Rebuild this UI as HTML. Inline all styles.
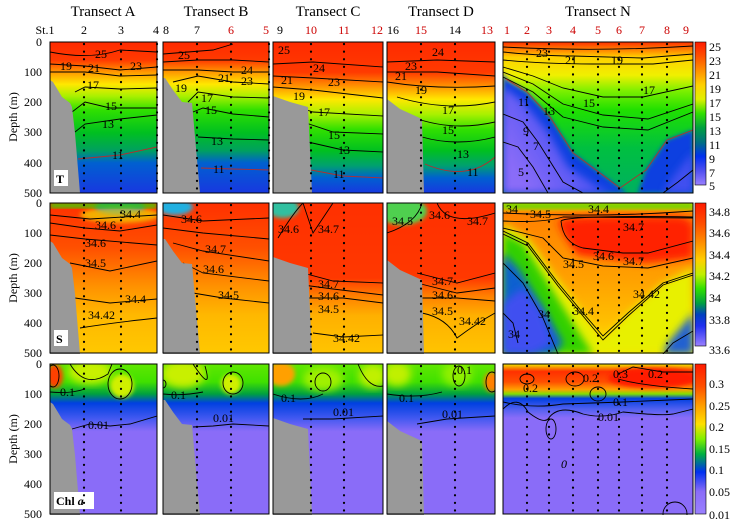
<!DOCTYPE html>
<html><head><meta charset="utf-8"><style>
html,body{margin:0;padding:0;background:#fff;}
svg{display:block;font-family:"Liberation Serif",serif;}
</style></head><body>
<svg width="731" height="523" viewBox="0 0 731 523" xmlns="http://www.w3.org/2000/svg">
<defs>
<linearGradient id="tA" x1="0" y1="0" x2="0" y2="1">
<stop offset="0" stop-color="#ff2a00"/><stop offset="0.12" stop-color="#ff3a00"/><stop offset="0.2" stop-color="#ff9a00"/><stop offset="0.28" stop-color="#ffe800"/><stop offset="0.36" stop-color="#a8f000"/><stop offset="0.45" stop-color="#30e000"/><stop offset="0.6" stop-color="#00c020"/><stop offset="0.72" stop-color="#00a060"/><stop offset="0.8" stop-color="#0060d0"/><stop offset="1" stop-color="#1838e0"/></linearGradient>
<linearGradient id="tC" x1="0" y1="0" x2="0" y2="1">
<stop offset="0" stop-color="#ff2a00"/><stop offset="0.2" stop-color="#ff3a00"/><stop offset="0.3" stop-color="#ff9a00"/><stop offset="0.38" stop-color="#ffe800"/><stop offset="0.48" stop-color="#a8f000"/><stop offset="0.58" stop-color="#30e000"/><stop offset="0.72" stop-color="#00c020"/><stop offset="0.82" stop-color="#00a070"/><stop offset="0.9" stop-color="#0060d0"/><stop offset="1" stop-color="#1838e0"/></linearGradient>
<linearGradient id="tN" x1="0" y1="0" x2="0" y2="1">
<stop offset="0" stop-color="#ff3000"/><stop offset="0.05" stop-color="#ff8000"/><stop offset="0.1" stop-color="#ffd000"/><stop offset="0.22" stop-color="#f0f000"/><stop offset="0.32" stop-color="#80f000"/><stop offset="0.45" stop-color="#20e000"/><stop offset="0.7" stop-color="#00c040"/><stop offset="1" stop-color="#00b060"/></linearGradient>
<linearGradient id="tNb" x1="1" y1="0" x2="0" y2="0.6">
<stop offset="0" stop-color="#0040e0"/><stop offset="0.3" stop-color="#3048f0"/><stop offset="1" stop-color="#8a6cf8"/></linearGradient>
<linearGradient id="sA" x1="0" y1="0" x2="0" y2="1">
<stop offset="0" stop-color="#ff3000"/><stop offset="0.3" stop-color="#ff5000"/><stop offset="0.55" stop-color="#ff9000"/><stop offset="0.75" stop-color="#ffb800"/><stop offset="1" stop-color="#ffc800"/></linearGradient>
<linearGradient id="sC" x1="0" y1="0" x2="0" y2="1">
<stop offset="0" stop-color="#ff3000"/><stop offset="0.5" stop-color="#ff3800"/><stop offset="0.62" stop-color="#ff8000"/><stop offset="0.75" stop-color="#ffb000"/><stop offset="1" stop-color="#ffc400"/></linearGradient>
<linearGradient id="sN" x1="0" y1="0" x2="0" y2="1">
<stop offset="0" stop-color="#e0f000"/><stop offset="0.07" stop-color="#ff8000"/><stop offset="0.5" stop-color="#ffa000"/><stop offset="0.8" stop-color="#ffc000"/><stop offset="1" stop-color="#ffe000"/></linearGradient>
<linearGradient id="cA" x1="0" y1="0" x2="0" y2="1">
<stop offset="0" stop-color="#60e800"/><stop offset="0.12" stop-color="#40e000"/><stop offset="0.2" stop-color="#00a040"/><stop offset="0.26" stop-color="#0040e0"/><stop offset="0.36" stop-color="#4058f0"/><stop offset="0.45" stop-color="#8a6cf8"/><stop offset="1" stop-color="#8a6cf8"/></linearGradient>
<linearGradient id="cN" x1="0" y1="0" x2="0" y2="1">
<stop offset="0" stop-color="#f0e800"/><stop offset="0.05" stop-color="#ff3000"/><stop offset="0.12" stop-color="#ff5000"/><stop offset="0.17" stop-color="#ffa000"/><stop offset="0.2" stop-color="#80e000"/><stop offset="0.23" stop-color="#0040e0"/><stop offset="0.3" stop-color="#5060f0"/><stop offset="0.36" stop-color="#8a6cf8"/><stop offset="1" stop-color="#8a6cf8"/></linearGradient>
<linearGradient id="cbT" x1="0" y1="0" x2="0" y2="1">
<stop offset="0" stop-color="#ff1a00"/><stop offset="0.1" stop-color="#ff5000"/><stop offset="0.2" stop-color="#ff9000"/><stop offset="0.3" stop-color="#ffd000"/><stop offset="0.4" stop-color="#e0f000"/><stop offset="0.5" stop-color="#30e000"/><stop offset="0.6" stop-color="#00a040"/><stop offset="0.7" stop-color="#007080"/><stop offset="0.8" stop-color="#0030f0"/><stop offset="0.9" stop-color="#5050f0"/><stop offset="1" stop-color="#9a80ff"/></linearGradient>
<linearGradient id="cbS" x1="0" y1="0" x2="0" y2="1">
<stop offset="0" stop-color="#ff1a00"/><stop offset="0.15" stop-color="#ff5000"/><stop offset="0.28" stop-color="#ff9000"/><stop offset="0.4" stop-color="#ffd000"/><stop offset="0.5" stop-color="#c0f000"/><stop offset="0.6" stop-color="#30e000"/><stop offset="0.7" stop-color="#00a040"/><stop offset="0.78" stop-color="#0040c0"/><stop offset="0.86" stop-color="#2030f0"/><stop offset="1" stop-color="#9a80ff"/></linearGradient>
<linearGradient id="cbC" x1="0" y1="0" x2="0" y2="1">
<stop offset="0" stop-color="#ff1a00"/><stop offset="0.15" stop-color="#ff5000"/><stop offset="0.28" stop-color="#ffa000"/><stop offset="0.4" stop-color="#ffe000"/><stop offset="0.5" stop-color="#80f000"/><stop offset="0.6" stop-color="#00b040"/><stop offset="0.72" stop-color="#0030f0"/><stop offset="0.85" stop-color="#8a6cf8"/><stop offset="1" stop-color="#9a80ff"/></linearGradient>
<filter id="bl" x="-20%" y="-20%" width="140%" height="140%"><feGaussianBlur stdDeviation="4"/></filter>
<filter id="bl2" x="-20%" y="-20%" width="140%" height="140%"><feGaussianBlur stdDeviation="2"/></filter>
<clipPath id="cN0"><rect x="0" y="0" width="190" height="151"/></clipPath>
<clipPath id="c107"><rect x="0" y="0" width="107" height="151"/></clipPath>
<clipPath id="c106"><rect x="0" y="0" width="106" height="151"/></clipPath>
<clipPath id="c110"><rect x="0" y="0" width="110" height="151"/></clipPath>
<clipPath id="c108"><rect x="0" y="0" width="108" height="151"/></clipPath>
</defs>

<g font-size="15" text-anchor="middle">
<text x="103" y="16">Transect A</text><text x="216" y="16">Transect B</text>
<text x="328" y="16">Transect C</text><text x="441" y="16">Transect D</text>
<text x="598" y="16">Transect N</text></g>
<g font-size="12" text-anchor="middle">
<text x="45" y="34">St.1</text><text x="84" y="34">2</text><text x="121" y="34">3</text><text x="156" y="34">4</text>
<text x="166" y="34">8</text><text x="197" y="34">7</text><text x="231" y="34" fill="#c00">6</text><text x="266" y="34" fill="#c00">5</text>
<text x="280" y="34">9</text><text x="311" y="34" fill="#c00">10</text><text x="344" y="34" fill="#c00">11</text><text x="377" y="34" fill="#c00">12</text>
<text x="393" y="34">16</text><text x="421" y="34" fill="#c00">15</text><text x="455" y="34">14</text><text x="487" y="34" fill="#c00">13</text>
<g fill="#c00"><text x="507" y="34">1</text><text x="527" y="34">2</text><text x="549" y="34">3</text><text x="573" y="34">4</text><text x="598" y="34">5</text><text x="619" y="34">6</text><text x="642" y="34">7</text><text x="667" y="34">8</text><text x="686" y="34">9</text></g>
</g>

<g font-size="12" text-anchor="end">
<text x="42" y="46">0</text><text x="42" y="76">100</text><text x="42" y="106">200</text><text x="42" y="136">300</text><text x="42" y="167">400</text><text x="42" y="197">500</text>
<text x="42" y="207">0</text><text x="42" y="237">100</text><text x="42" y="267">200</text><text x="42" y="297">300</text><text x="42" y="327">400</text><text x="42" y="357">500</text>
<text x="42" y="368">0</text><text x="42" y="398">100</text><text x="42" y="428">200</text><text x="42" y="458">300</text><text x="42" y="488">400</text><text x="42" y="518">500</text>
</g>
<g font-size="12" text-anchor="middle">
<text transform="translate(17,117) rotate(-90)">Depth (m)</text>
<text transform="translate(17,278) rotate(-90)">Depth (m)</text>
<text transform="translate(17,439) rotate(-90)">Depth (m)</text></g>

<!-- ROW 1 -->
<g transform="translate(50,42)"><g clip-path="url(#c107)"><rect width="107" height="151" fill="url(#tA)"/>
<g fill="none" stroke="#000" stroke-width="0.9"><path d="M0 10 Q40 18 70 8 L107 10"/><path d="M0 22 L35 24 L70 28 L107 25"/><path d="M0 30 L35 30 L70 34 L107 33"/><path d="M25 50 L35 45 L70 47 L107 46"/><path d="M22 70 L35 60 L60 66 L107 66"/><path d="M25 90 L35 82 L70 77 L107 73"/><path stroke="#b03030" d="M28 117 L70 113 L107 105"/></g>
<polygon points="0,38 3,40 12,55 20,61 22,65 25,91 30,151 0,151" fill="#999"/>
<g font-size="12"><text x="45" y="16">25</text><text x="80" y="28">23</text><text x="10" y="28">19</text><text x="38" y="30">21</text><text x="37" y="47">17</text><text x="55" y="68">15</text><text x="52" y="86">13</text><text x="62" y="117">11</text></g>
<rect x="4" y="128" width="14" height="16" fill="#fff"/><text x="6" y="141" font-size="12" font-weight="bold">T</text></g></g>

<g transform="translate(163,42)"><g clip-path="url(#c106)"><rect width="106" height="151" fill="url(#tA)"/>
<g fill="none" stroke="#000" stroke-width="0.9"><path d="M0 12 L50 8 L70 2"/><path d="M0 20 L35 18 L70 18 L106 20"/><path d="M0 28 L35 28 L70 30 L106 30"/><path d="M10 40 L35 34 L70 40 L106 42"/><path d="M25 60 L35 50 L70 55 L106 56"/><path d="M30 70 L40 66 L70 72 L106 75"/><path d="M35 95 L70 97 L106 98"/><path stroke="#b03030" d="M38 126 L70 127 L106 128"/></g>
<polygon points="0,36 2,36 10,48 19,60 29,61 37,151 0,151" fill="#999"/>
<g font-size="12"><text x="15" y="17">25</text><text x="78" y="32">24</text><text x="78" y="43">23</text><text x="55" y="40">21</text><text x="12" y="50">19</text><text x="38" y="60">17</text><text x="42" y="72">15</text><text x="48" y="103">13</text><text x="50" y="131">11</text></g></g></g>

<g transform="translate(273,42)"><g clip-path="url(#c110)"><rect width="110" height="151" fill="url(#tC)"/>
<g fill="none" stroke="#000" stroke-width="0.9"><path d="M0 22 L40 20 L110 25"/><path d="M0 34 L40 36 L110 40"/><path d="M0 45 L40 48 L110 56"/><path d="M10 60 L40 70 L110 74"/><path d="M30 80 L60 90 L110 92"/><path d="M35 100 L70 108 L110 110"/><path stroke="#b03030" d="M38 128 L70 134 L110 136"/></g>
<polygon points="0,54 17,60 35,65 39,151 0,151" fill="#999"/>
<g font-size="12"><text x="5" y="12">25</text><text x="40" y="30">24</text><text x="55" y="44">23</text><text x="8" y="42">21</text><text x="20" y="58">19</text><text x="45" y="74">17</text><text x="55" y="97">15</text><text x="65" y="112">13</text><text x="60" y="136">11</text></g></g></g>

<g transform="translate(387,42)"><g clip-path="url(#c108)"><rect width="108" height="151" fill="url(#tC)"/>
<g fill="none" stroke="#000" stroke-width="0.9"><path d="M0 20 L50 18 L108 20"/><path d="M0 30 L50 30 L108 34"/><path d="M0 40 Q50 48 108 44"/><path d="M10 55 Q60 70 108 60"/><path d="M25 75 Q65 90 108 80"/><path d="M35 95 Q70 105 108 95"/><path stroke="#b03030" d="M38 122 Q80 140 108 115"/></g>
<polygon points="0,57 13,67 35,77 37,151 0,151" fill="#999"/>
<g font-size="12"><text x="45" y="14">24</text><text x="18" y="28">23</text><text x="8" y="38">21</text><text x="28" y="52">19</text><text x="55" y="72">17</text><text x="55" y="92">15</text><text x="70" y="116">13</text><text x="80" y="134">11</text></g></g></g>

<g transform="translate(503,42)"><g clip-path="url(#cN0)"><rect width="190" height="151" fill="url(#tN)"/>
<path d="M0 30 L4 38 L24 50 L47 75 L70 111 L97 131 L117 146 L124 151 L135 151 L143 128 L164 98 L190 88 L190 151 L0 151 Z" fill="#0840e0" filter="url(#bl2)"/>
<path d="M0 45 L20 60 L45 90 L65 125 L95 145 L110 151 L0 151 Z" fill="url(#tNb)" filter="url(#bl)"/>
<path d="M190 110 L170 135 L160 151 L190 151Z" fill="#4050f0" filter="url(#bl)"/>
<g fill="none" stroke="#000" stroke-width="0.9"><path d="M0 5 Q95 10 190 4"/><path d="M0 10 Q40 14 70 14 L140 16 L190 12"/><path d="M0 18 Q40 22 90 22 L150 22 L190 18"/><path d="M0 25 L30 34 L60 46 L100 55 L140 55 L190 44"/><path d="M0 30 L30 42 L60 62 L100 73 L145 77 L190 62"/><path d="M0 35 L30 50 L60 75 L100 85 L145 88 L190 70"/><path stroke="#b03030" d="M3 37 L24 50 L47 75 L70 111 L97 131 L117 146 L143 128 L164 98 L190 88"/><path d="M0 72 L20 80 L35 100 L60 140 L80 151"/><path d="M0 100 L15 105 L30 125 L45 151"/><path d="M160 151 L175 140 L190 128"/></g>
<g font-size="12"><text x="33" y="15">23</text><text x="62" y="22">21</text><text x="108" y="22">19</text><text x="140" y="52">17</text><text x="80" y="65">15</text><text x="40" y="73">13</text><text x="15" y="64">11</text><text x="20" y="93">9</text><text x="30" y="108">7</text><text x="15" y="134">5</text></g></g></g>

<!-- ROW 2 -->
<g transform="translate(50,203)"><g clip-path="url(#c107)"><rect width="107" height="150" fill="url(#sA)"/>
<ellipse cx="70" cy="4" rx="25" ry="8" fill="#1060e0" filter="url(#bl2)"/><ellipse cx="70" cy="12" rx="40" ry="8" fill="#f0e000" filter="url(#bl2)" opacity="0.7"/>
<rect x="0" y="0" width="107" height="5" fill="#40d000" filter="url(#bl2)"/>
<g fill="none" stroke="#000" stroke-width="0.9"><path d="M0 12 L40 16 L107 12"/><path d="M0 20 L35 25 L70 28 L107 22"/><path d="M0 32 L35 36 L107 42"/><path d="M20 60 L60 68 L107 58"/><path d="M25 95 L60 100 L107 96"/><path d="M30 125 Q60 120 107 115"/></g>
<polygon points="0,38 3,40 12,55 20,61 22,65 25,91 30,151 0,151" fill="#999"/>
<g font-size="12"><text x="70" y="15">34.4</text><text x="45" y="26">34.6</text><text x="35" y="44">34.6</text><text x="35" y="64">34.5</text><text x="38" y="116">34.42</text><text x="75" y="100">34.4</text></g>
<rect x="4" y="127" width="14" height="16" fill="#fff"/><text x="6" y="140" font-size="12" font-weight="bold">S</text></g></g>

<g transform="translate(163,203)"><g clip-path="url(#c106)"><rect width="106" height="150" fill="url(#sA)"/>
<ellipse cx="12" cy="4" rx="18" ry="8" fill="#20b0e0" filter="url(#bl2)"/>
<g fill="none" stroke="#000" stroke-width="0.9"><path d="M0 12 L40 18 L106 15"/><path d="M0 25 L40 30 L106 36"/><path d="M10 40 L40 48 L106 58"/><path d="M20 60 L40 70 L106 78"/><path d="M30 90 L60 95 L106 100"/></g>
<polygon points="0,36 2,36 10,48 19,60 29,61 37,151 0,151" fill="#999"/>
<g font-size="12"><text x="18" y="20">34.6</text><text x="42" y="50">34.7</text><text x="40" y="70">34.6</text><text x="55" y="96">34.5</text></g></g></g>

<g transform="translate(273,203)"><g clip-path="url(#c110)"><rect width="110" height="150" fill="url(#sC)"/>
<ellipse cx="10" cy="5" rx="16" ry="10" fill="#30c0a0" filter="url(#bl2)"/>
<g fill="none" stroke="#000" stroke-width="0.9"><path d="M5 35 Q20 10 30 0"/><path d="M30 0 L40 30 L60 0"/><path d="M30 70 L60 78 L110 80"/><path d="M30 82 L60 86 L110 92"/><path d="M35 95 L70 95 L110 100"/><path d="M40 130 L70 134 L110 132"/></g>
<polygon points="0,54 17,60 35,65 39,151 0,151" fill="#999"/>
<g font-size="12"><text x="5" y="30">34.6</text><text x="45" y="30">34.7</text><text x="45" y="85">34.7</text><text x="45" y="97">34.6</text><text x="45" y="110">34.5</text><text x="60" y="139">34.42</text></g></g></g>

<g transform="translate(387,203)"><g clip-path="url(#c108)"><rect width="108" height="150" fill="url(#sC)"/>
<ellipse cx="15" cy="8" rx="25" ry="14" fill="#50d050" filter="url(#bl2)"/>
<g fill="none" stroke="#000" stroke-width="0.9"><path d="M0 30 Q30 20 35 0"/><path d="M50 0 Q60 25 108 10"/><path d="M30 70 L70 80 L108 70"/><path d="M30 80 L70 90 L108 85"/><path d="M35 95 L70 95 L108 98"/><path d="M35 110 Q60 115 70 135 Q90 120 108 110"/></g>
<polygon points="0,57 13,67 35,77 37,151 0,151" fill="#999"/>
<g font-size="12"><text x="5" y="22">34.5</text><text x="42" y="16">34.6</text><text x="80" y="22">34.7</text><text x="45" y="82">34.7</text><text x="45" y="96">34.6</text><text x="45" y="112">34.5</text><text x="72" y="122">34.42</text></g></g></g>

<g transform="translate(503,203)"><g clip-path="url(#cN0)"><rect width="190" height="150" fill="url(#sN)"/>
<path d="M0 20 L25 35 L50 70 L80 110 L100 137 L125 110 L160 80 L190 65 L190 151 L0 151Z" fill="#e8f000" filter="url(#bl)"/>
<path d="M0 30 L20 40 L45 80 L70 120 L90 151 L0 151Z" fill="#30d000" filter="url(#bl)"/>
<path d="M0 50 L15 65 L40 105 L60 140 L50 151 L0 151Z" fill="#0860d0" filter="url(#bl)"/>
<path d="M20 85 L40 110 L50 140 L30 151 L0 151 L0 100Z" fill="#4050f0" filter="url(#bl)"/>
<path d="M190 110 L165 140 L160 151 L190 151Z" fill="#2060d0" filter="url(#bl)"/>
<path d="M55 18 Q65 12 180 14 L190 20 L190 55 Q150 60 140 60 L75 52 Q60 35 55 18Z" fill="#ff2000" filter="url(#bl)"/>
<rect width="190" height="6" fill="#70d000" filter="url(#bl2)"/>
<g fill="none" stroke="#000" stroke-width="0.9"><path d="M0 10 Q95 15 190 8"/><path d="M0 18 Q40 20 60 14 L190 15"/><path d="M58 18 Q65 12 190 14"/><path d="M58 18 Q60 40 80 45 L120 50 L145 50 L190 38"/><path d="M0 25 L40 35 L60 55 L100 63 L145 65 L190 55"/><path d="M0 28 L25 40 L55 80 L80 110 L100 133 L125 110 L160 80 L190 70"/><path d="M0 31 L25 43 L55 83 L80 113 L100 137 L125 113 L160 82 L190 72"/><path d="M0 60 L20 80 L40 115 L55 151"/><path d="M0 110 L10 120 L15 140"/><path d="M160 151 L170 140 L190 128"/></g>
<g font-size="12"><text x="3" y="10">34</text><text x="27" y="15">34.5</text><text x="85" y="10">34.4</text><text x="120" y="28">34.7</text><text x="120" y="62">34.7</text><text x="90" y="57">34.6</text><text x="60" y="65">34.5</text><text x="70" y="112">34.4</text><text x="130" y="95">34.42</text><text x="35" y="115">34</text><text x="5" y="135">34</text></g></g></g>

<!-- ROW 3 -->
<g transform="translate(50,364)"><g clip-path="url(#c107)"><rect width="107" height="150" fill="url(#cA)"/>
<ellipse cx="5" cy="12" rx="8" ry="12" fill="#ff4000" filter="url(#bl2)"/><ellipse cx="40" cy="8" rx="22" ry="12" fill="#c8f000" filter="url(#bl)"/><ellipse cx="72" cy="22" rx="12" ry="12" fill="#d0f000" filter="url(#bl2)"/>
<g fill="none" stroke="#000" stroke-width="0.9"><ellipse cx="3" cy="12" rx="6" ry="11"/><path d="M20 0 Q35 25 58 10 L62 0"/><ellipse cx="70" cy="20" rx="12" ry="15"/><path d="M0 28 Q20 30 35 25"/><path d="M22 65 L40 60 L60 62 L80 60 L107 52"/></g>
<polygon points="0,38 3,40 12,55 20,61 22,65 25,91 30,151 0,151" fill="#999"/>
<g font-size="12"><text x="10" y="32">0.1</text><text x="38" y="65">0.01</text></g>
<rect x="4" y="128" width="40" height="17" fill="#fff"/><text x="6" y="141" font-size="12" font-weight="bold">Chl <tspan font-style="italic">a</tspan></text></g></g>

<g transform="translate(163,364)"><g clip-path="url(#c106)"><rect width="106" height="150" fill="url(#cA)"/>
<ellipse cx="20" cy="10" rx="22" ry="14" fill="#c8f000" filter="url(#bl)"/><ellipse cx="68" cy="20" rx="10" ry="10" fill="#d0f000" filter="url(#bl2)"/>
<g fill="none" stroke="#000" stroke-width="0.9"><path d="M30 0 Q50 30 42 2"/><ellipse cx="70" cy="19" rx="10" ry="11"/><ellipse cx="0" cy="20" rx="3" ry="4"/><path d="M0 30 Q20 32 40 28"/><path d="M30 63 L50 62 L70 60 L106 62"/></g>
<polygon points="0,36 2,36 10,48 19,60 29,61 37,151 0,151" fill="#999"/>
<g font-size="12"><text x="8" y="35">0.1</text><text x="50" y="58">0.01</text></g></g></g>

<g transform="translate(273,364)"><g clip-path="url(#c110)"><rect width="110" height="150" fill="url(#cA)"/>
<ellipse cx="8" cy="10" rx="14" ry="12" fill="#ffa000" filter="url(#bl2)"/><ellipse cx="50" cy="15" rx="20" ry="12" fill="#a0f000" filter="url(#bl)"/><ellipse cx="100" cy="12" rx="14" ry="12" fill="#c0f000" filter="url(#bl)"/>
<g fill="none" stroke="#000" stroke-width="0.9"><ellipse cx="50" cy="18" rx="8" ry="9"/><path d="M0 30 Q30 40 50 30"/><path d="M30 55 L60 55 L110 52"/><path d="M85 0 Q95 25 110 22"/></g>
<polygon points="0,54 17,60 35,65 39,151 0,151" fill="#999"/>
<g font-size="12"><text x="8" y="38">0.1</text><text x="60" y="52">0.01</text></g></g></g>

<g transform="translate(387,364)"><g clip-path="url(#c108)"><rect width="108" height="150" fill="url(#cA)"/>
<ellipse cx="10" cy="10" rx="14" ry="12" fill="#c0f000" filter="url(#bl)"/><ellipse cx="70" cy="10" rx="15" ry="12" fill="#90f000" filter="url(#bl)"/><ellipse cx="105" cy="18" rx="8" ry="10" fill="#ff8000" filter="url(#bl2)"/>
<g fill="none" stroke="#000" stroke-width="0.9"><ellipse cx="72" cy="12" rx="6" ry="10"/><ellipse cx="105" cy="18" rx="6" ry="10"/><path d="M0 30 Q30 35 55 28"/><path d="M30 60 L60 55 L108 52"/></g>
<polygon points="0,57 13,67 35,77 37,151 0,151" fill="#999"/>
<g font-size="12"><text x="70" y="10">0.1</text><text x="12" y="38">0.1</text><text x="55" y="54">0.01</text></g></g></g>

<g transform="translate(503,364)"><g clip-path="url(#cN0)"><rect width="190" height="150" fill="url(#cN)"/>
<ellipse cx="150" cy="14" rx="45" ry="10" fill="#ff1a00" filter="url(#bl2)"/>
<g fill="none" stroke="#000" stroke-width="0.9"><ellipse cx="24" cy="15" rx="7" ry="5"/><ellipse cx="72" cy="15" rx="9" ry="7"/><ellipse cx="95" cy="30" rx="8" ry="7"/><ellipse cx="48" cy="65" rx="5" ry="10"/><ellipse cx="172" cy="150" rx="12" ry="12"/><path d="M115 10 L130 3 L160 8 L190 8"/><path d="M115 15 Q140 22 190 25"/><path d="M0 38 Q30 45 60 40 L120 38 L190 35"/><path d="M0 45 Q15 30 25 48 Q40 60 45 55 Q55 40 80 50 Q100 55 120 48 Q160 52 170 50 L190 45"/></g>
<g font-size="12"><text x="80" y="18">0.2</text><text x="20" y="28">0.2</text><text x="110" y="14">0.3</text><text x="145" y="14">0.2</text><text x="110" y="42">0.1</text><text x="95" y="57">0.01</text><text x="58" y="104" font-style="italic">0</text></g></g></g>

<!-- station dots -->
<g stroke="#000" stroke-width="2.2" stroke-dasharray="0.1,7.5" stroke-linecap="round" fill="none">
<path d="M84 44V193M121 44V193M157 44V193M197 44V193M231 44V193M269 44V193M311 44V193M344 44V193M455 44V193M421 44V193"/>
<path d="M527 44V193M549 44V193M573 44V193M598 44V193M619 44V193M642 44V193M667 44V193"/>
<path d="M84 205V353M121 205V353M197 205V353M231 205V353M311 205V353M344 205V353M421 205V353M455 205V353M527 214V353M549 214V353M573 214V353M598 214V353M619 214V353M642 214V353M667 214V353"/>
<path d="M84 366V514M121 366V514M197 366V514M231 366V514M311 366V514M344 366V514M421 366V514M455 366V514M527 366V514M549 366V514M573 366V514M598 366V514M619 366V514M642 366V514M667 366V514"/>
</g>

<g fill="none" stroke="#000" stroke-width="1">
<rect x="50" y="42" width="107" height="151"/><rect x="163" y="42" width="106" height="151"/><rect x="273" y="42" width="110" height="151"/><rect x="387" y="42" width="108" height="151"/><rect x="503" y="42" width="190" height="151"/>
<rect x="50" y="203" width="107" height="150"/><rect x="163" y="203" width="106" height="150"/><rect x="273" y="203" width="110" height="150"/><rect x="387" y="203" width="108" height="150"/><rect x="503" y="203" width="190" height="150"/>
<rect x="50" y="364" width="107" height="150"/><rect x="163" y="364" width="106" height="150"/><rect x="273" y="364" width="110" height="150"/><rect x="387" y="364" width="108" height="150"/><rect x="503" y="364" width="190" height="150"/>
</g>

<rect x="695" y="42" width="11" height="143" fill="url(#cbT)" stroke="#000" stroke-width="0.6"/>
<rect x="695" y="203" width="11" height="143" fill="url(#cbS)" stroke="#000" stroke-width="0.6"/>
<rect x="695" y="364" width="11" height="150" fill="url(#cbC)" stroke="#000" stroke-width="0.6"/>
<g font-size="12">
<text x="709" y="51">25</text><text x="709" y="65">23</text><text x="709" y="79">21</text><text x="709" y="93">19</text><text x="709" y="107">17</text><text x="709" y="121">15</text><text x="709" y="135">13</text><text x="709" y="149">11</text><text x="709" y="163">9</text><text x="709" y="177">7</text><text x="709" y="190">5</text>
<text x="709" y="216">34.8</text><text x="709" y="237">34.6</text><text x="709" y="259">34.4</text><text x="709" y="280">34.2</text><text x="709" y="302">34</text><text x="709" y="324">33.8</text><text x="709" y="354">33.6</text>
<text x="709" y="388">0.3</text><text x="709" y="410">0.25</text><text x="709" y="431">0.2</text><text x="709" y="453">0.15</text><text x="709" y="474">0.1</text><text x="709" y="496">0.05</text><text x="709" y="519">0.01</text>
</g>
</svg>
</body></html>
